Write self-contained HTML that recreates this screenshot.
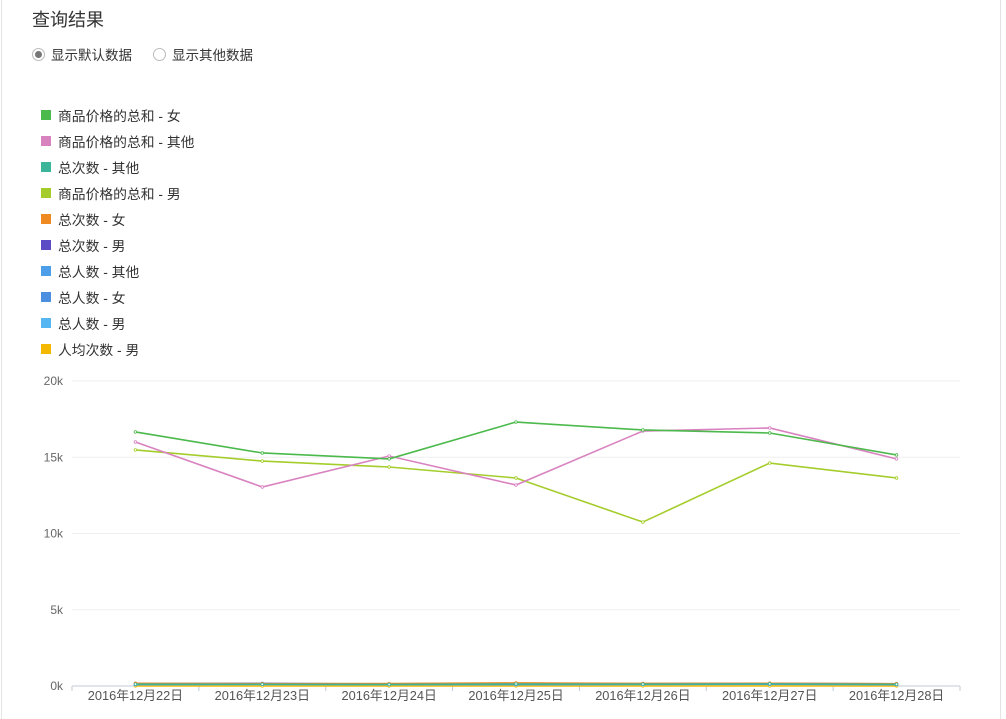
<!DOCTYPE html>
<html><head><meta charset="utf-8"><style>
body{margin:0;width:1006px;height:714px;background:#fff;font-family:"Liberation Sans","Noto Sans CJK SC",sans-serif;overflow:hidden;position:relative}
.frame{position:absolute;left:1px;top:-1px;width:998px;height:720px;border-left:1px solid #e4e4e4;border-right:1px solid #e4e4e4}
.title{position:absolute;left:32px;top:6px;font-size:18px;color:#333}
.radio{position:absolute;top:44px;font-size:13.5px;color:#333;display:flex;align-items:center}
.radio i{display:inline-block;width:11px;height:11px;border:1px solid #bbb;border-radius:50%;margin-right:6px;position:relative}
.radio i.on::after{content:"";position:absolute;left:2px;top:2px;width:7px;height:7px;border-radius:50%;background:#777}
.leg{position:absolute;left:41px;font-size:13.8px;color:#333;display:flex;align-items:center}
.leg b{display:inline-block;width:10px;height:10px;margin-right:7px}
</style></head><body>
<div class="frame"></div>
<div class="title">查询结果</div>
<div class="radio" style="left:32px"><i class="on"></i>显示默认数据</div>
<div class="radio" style="left:153px"><i></i>显示其他数据</div>
<div id="legend"></div>
<svg id="chart" width="1006" height="714" style="position:absolute;left:0;top:0"></svg>
<script>
const categories=["2016年12月22日","2016年12月23日","2016年12月24日","2016年12月25日","2016年12月26日","2016年12月27日","2016年12月28日"];
const seriesNames=["商品价格的总和 - 女","商品价格的总和 - 其他","总次数 - 其他","商品价格的总和 - 男","总次数 - 女","总次数 - 男","总人数 - 其他","总人数 - 女","总人数 - 男","人均次数 - 男"];
const seriesColors=["#4bb94b","#d982c0","#3bb59a","#a4cd2b","#ef8a22","#5b4bc4","#4c9ee8","#4a8fe0","#55b6f2","#f5b800"];
const s0=[16660,15280,14890,17310,16790,16590,15150];
const s1=[16000,13050,15080,13180,16720,16920,14890];
const s2=[120,110,100,130,120,140,110];
const s3=[15480,14750,14360,13640,10750,14620,13640];
const s4=[180,150,160,200,170,180,150];
const s5=[150,170,130,160,150,170,140];
const s6=[100,120,110,100,110,130,100];
const s7=[110,130,120,110,120,120,110];
const s8=[90,100,90,95,100,110,90];
const s9=[5,5,5,5,5,5,5];
const seriesValues=[s0,s1,s2,s3,s4,s5,s6,s7,s8,s9];
const yTicks=[0,5000,10000,15000,20000];
const yTickLabels=["0k","5k","10k","15k","20k"];
const NS="http://www.w3.org/2000/svg";
const svg=document.getElementById('chart');
const X0=72,X1=960,Y0=686,Y1=381,YMAX=20000;
const band=(X1-X0)/categories.length;
const xs=i=>X0+band*(i+0.5);
const ys=v=>Y0-(v/YMAX)*(Y0-Y1);
function mk(t,a){const e=document.createElementNS(NS,t);for(const k in a)e.setAttribute(k,a[k]);svg.appendChild(e);return e;}
yTicks.forEach((t,i)=>{
  const g=mk('line',{x1:X0,x2:X1,y1:ys(t),y2:ys(t),stroke:i?'#efefef':'#c0cbd8','stroke-width':1});
  
  
  const l=mk('text',{x:63,y:ys(t)+4,'text-anchor':'end','font-size':12,fill:'#666'});
  l.textContent=yTickLabels[i];
  
  
});
for(let i=0;i<=categories.length;i++){
  const t=mk('line',{x1:X0+band*i,x2:X0+band*i,y1:Y0,y2:Y0+5,stroke:'#c0cbd8'});
  
  
}
categories.forEach((c,i)=>{
  const l=mk('text',{x:xs(i),y:Y0+14,'text-anchor':'middle','font-size':12.8,fill:'#555'});
  l.textContent=c;
  
  
});
for(let k=seriesValues.length-1;k>=0;k--){
  const vals=seriesValues[k];
  const p=mk('polyline',{points:vals.map((v,i)=>xs(i)+','+ys(v)).join(' '),fill:'none',stroke:seriesColors[k],'stroke-width':1.6});
  
  
  vals.forEach((v,i)=>{
    const c=mk('circle',{cx:xs(i),cy:ys(v),r:1.3,fill:'#fff',stroke:seriesColors[k],'stroke-width':0.8});
    
    
  });
}
const leg=document.getElementById('legend');
seriesNames.forEach((n,i)=>{
  const d=document.createElement('div');
  d.className='leg';d.style.top=(105+26*i)+'px';
  d.innerHTML='<b style="background:'+seriesColors[i]+'"></b>'+n;
  
  
  leg.appendChild(d);
});
</script>
</body></html>
